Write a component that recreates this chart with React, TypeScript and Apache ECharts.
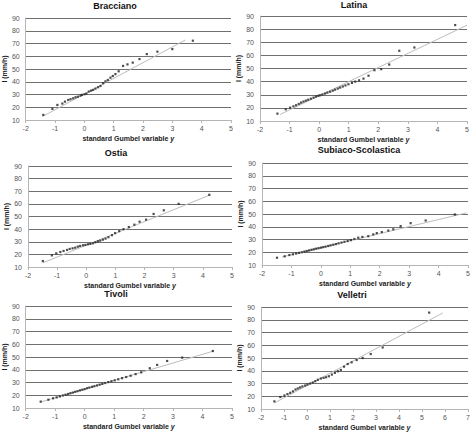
import React, { useEffect, useRef } from "react";
import * as echarts from "echarts";

// ---- data ----
const stationNames = ["Bracciano", "Latina", "Ostia", "Subiaco-Scolastica", "Tivoli", "Velletri"];

const braccianoX = [-1.40, -1.09, -0.92, -0.75, -0.66, -0.55, -0.47, -0.38, -0.30, -0.22, -0.13, -0.08, 0.0, 0.07, 0.15, 0.23, 0.30, 0.38, 0.47, 0.55, 0.64, 0.72, 0.80, 0.89, 0.97, 1.06, 1.17, 1.32, 1.47, 1.65, 1.88, 2.13, 2.49, 3.0, 3.70];
const braccianoY = [14, 18.7, 21.8, 22.9, 24.4, 25.7, 26.3, 27, 27.8, 28.3, 29.1, 29.7, 30.2, 30.7, 32.3, 33, 33.6, 34.6, 35.7, 36.7, 38.8, 40.3, 41.4, 43.2, 44.5, 46, 48.2, 52.4, 53.6, 55, 57.8, 61.7, 63.6, 65.6, 72.2];
const braccianoFitX = [-1.43, 3.44];
const braccianoFitY = [12.7, 72.7];

const latinaX = [-1.41, -1.13, -0.98, -0.87, -0.78, -0.69, -0.61, -0.53, -0.45, -0.37, -0.28, -0.19, -0.11, -0.03, 0.03, 0.11, 0.20, 0.28, 0.37, 0.46, 0.54, 0.63, 0.71, 0.80, 0.89, 0.99, 1.11, 1.22, 1.35, 1.50, 1.67, 1.87, 2.10, 2.37, 2.71, 3.22, 4.60];
const latinaY = [15.6, 18.9, 20.2, 21.2, 22.0, 23.0, 24.0, 24.8, 25.5, 26.2, 27.0, 27.8, 28.6, 29.2, 29.6, 30.2, 30.9, 31.6, 32.3, 33.1, 33.9, 34.7, 35.5, 36.3, 37.1, 38.0, 39.0, 40.0, 41.0, 42.3, 44.5, 48.7, 49.5, 53.0, 63.5, 66.0, 83.1];
const latinaFitX = [-1.32, 5.0];
const latinaFitY = [15, 83];

const ostiaX = [-1.49, -1.18, -1.03, -0.89, -0.78, -0.66, -0.57, -0.47, -0.38, -0.29, -0.21, -0.11, -0.03, 0.06, 0.14, 0.23, 0.31, 0.40, 0.48, 0.57, 0.66, 0.76, 0.88, 0.99, 1.13, 1.28, 1.46, 1.65, 1.83, 2.05, 2.31, 2.66, 3.17, 4.22];
const ostiaY = [14.7, 19.2, 20.8, 21.9, 22.7, 23.5, 24.3, 24.8, 25.3, 26.1, 26.7, 27.2, 27.5, 28.0, 28.3, 28.8, 29.6, 30.4, 30.9, 31.7, 32.5, 33.6, 35.2, 36.8, 38.4, 40.0, 41.6, 43.5, 45.9, 47.5, 52.0, 54.9, 60.0, 67.2];
const ostiaFitX = [-1.49, 4.26];
const ostiaFitY = [13.3, 67.2];

const subiacoX = [-1.49, -1.23, -1.07, -0.95, -0.84, -0.74, -0.65, -0.56, -0.48, -0.40, -0.32, -0.24, -0.16, -0.08, 0.0, 0.08, 0.16, 0.25, 0.33, 0.42, 0.51, 0.60, 0.70, 0.80, 0.91, 1.02, 1.14, 1.27, 1.41, 1.61, 1.78, 1.90, 2.07, 2.29, 2.46, 2.71, 3.05, 3.56, 4.55];
const subiacoY = [15.7, 16.8, 17.8, 18.4, 19.0, 19.5, 20.0, 20.5, 21.0, 21.4, 21.9, 22.3, 22.8, 23.2, 23.6, 24.0, 24.4, 24.9, 25.4, 25.9, 26.4, 27.0, 27.6, 28.2, 28.8, 29.5, 30.4, 31.4, 32.0, 32.6, 34.0, 35.0, 35.8, 37.0, 38.0, 40.5, 42.8, 44.9, 49.6];
const subiacoFitX = [-1.32, 4.95];
const subiacoFitY = [16.3, 50.9];

const tivoliX = [-1.49, -1.23, -1.07, -0.95, -0.84, -0.74, -0.65, -0.56, -0.48, -0.40, -0.32, -0.24, -0.16, -0.08, 0.0, 0.08, 0.16, 0.25, 0.33, 0.42, 0.51, 0.60, 0.70, 0.80, 0.91, 1.02, 1.14, 1.27, 1.41, 1.56, 1.73, 1.92, 2.21, 2.46, 2.80, 3.31, 4.35];
const tivoliY = [15.0, 16.5, 17.6, 18.3, 19.1, 19.8, 20.4, 21.0, 21.6, 22.1, 22.7, 23.2, 23.8, 24.3, 24.8, 25.5, 26.0, 26.6, 27.1, 27.7, 28.3, 28.9, 29.6, 30.3, 31.0, 31.7, 32.5, 33.4, 34.3, 35.3, 36.6, 38.0, 41.2, 43.8, 46.9, 49.5, 54.7];
const tivoliFitX = [-1.49, 4.38];
const tivoliFitY = [14.7, 54.7];

const velletriX = [-1.42, -1.16, -0.98, -0.85, -0.73, -0.61, -0.50, -0.40, -0.30, -0.20, -0.08, 0.02, 0.14, 0.25, 0.36, 0.47, 0.60, 0.72, 0.83, 0.95, 1.08, 1.21, 1.34, 1.47, 1.61, 1.77, 1.94, 2.16, 2.42, 2.77, 3.29, 5.31];
const velletriY = [16, 19.4, 20.6, 21.7, 22.7, 23.8, 25.3, 26.1, 26.9, 27.7, 28.4, 29.2, 30, 30.8, 31.8, 32.9, 33.9, 34.4, 34.9, 35.7, 37, 38.3, 39.6, 40.6, 43.2, 45.3, 46.6, 48.4, 50, 53.1, 58.3, 85.6];
const velletriFitX = [-1.42, 5.9];
const velletriFitY = [14.7, 85.3];

const xMaxes = [5, 5, 5, 5, 5, 7];
const yTicks = { min: 10, max: 90, interval: 10 };
const yAxisTitle = "I (mm/h)";
const xAxisTitle = "standard Gumbel variable ";
const xAxisTitleItalic = "y";

const seriesX = [braccianoX, latinaX, ostiaX, subiacoX, tivoliX, velletriX];
const seriesY = [braccianoY, latinaY, ostiaY, subiacoY, tivoliY, velletriY];
const fitXs = [braccianoFitX, latinaFitX, ostiaFitX, subiacoFitX, tivoliFitX, velletriFitX];
const fitYs = [braccianoFitY, latinaFitY, ostiaFitY, subiacoFitY, tivoliFitY, velletriFitY];

// ---- layout ----
const grids = [
  { left: 25, top: 18, width: 206, height: 102 },
  { left: 260, top: 16, width: 207, height: 105 },
  { left: 28, top: 166, width: 204, height: 101 },
  { left: 262, top: 163, width: 207, height: 102 },
  { left: 25, top: 306, width: 207, height: 102 },
  { left: 261, top: 307, width: 208, height: 102 },
];
const titlePos = [
  { x: 115, y: 1 },
  { x: 354, y: 0 },
  { x: 116, y: 148 },
  { x: 359, y: 145 },
  { x: 116, y: 289 },
  { x: 352, y: 290 },
];

const FONT = "Liberation Sans, Arial, sans-serif";

export default function App() {
  const ref = useRef<HTMLDivElement>(null);
  useEffect(() => {
    if (!ref.current) return;
    const chart = echarts.init(ref.current, undefined, { renderer: "svg" });
    const option: any = {
      animation: false,
      backgroundColor: "#ffffff",
      textStyle: { fontFamily: FONT },
      title: stationNames.map((n, i) => ({
        text: n,
        left: titlePos[i].x,
        top: titlePos[i].y,
        textAlign: "center",
        padding: 0,
        textStyle: { fontSize: 9, fontWeight: "bold", color: "#111", fontFamily: FONT },
      })),
      grid: grids.map((g) => ({ ...g, containLabel: false })),
      xAxis: stationNames.map((_, i) => ({
        type: "value",
        gridIndex: i,
        min: -2,
        max: xMaxes[i],
        interval: 1,
        splitLine: { show: false },
        axisLine: { show: true, onZero: false, lineStyle: { color: "#b5b5b5", width: 1 } },
        axisTick: { show: true, length: 3, lineStyle: { color: "#b5b5b5" } },
        axisLabel: { fontSize: 7, color: "#555", margin: 5, fontFamily: FONT },
        name: `{b|${xAxisTitle}}{i|${xAxisTitleItalic}}`,
        nameLocation: "middle",
        nameGap: 15,
        nameTextStyle: {
          rich: {
            b: { fontSize: 7, fontWeight: "bold", color: "#222", fontFamily: FONT },
            i: { fontSize: 7, fontWeight: "bold", fontStyle: "italic", color: "#222", fontFamily: FONT },
          },
        },
      })),
      yAxis: stationNames.map((_, i) => ({
        type: "value",
        gridIndex: i,
        min: yTicks.min,
        max: yTicks.max,
        interval: yTicks.interval,
        splitLine: { show: true, lineStyle: { color: "#707070", width: 1 } },
        axisLine: { show: true, onZero: false, lineStyle: { color: "#b5b5b5", width: 1 } },
        axisTick: { show: false },
        axisLabel: { fontSize: 7, color: "#555", margin: 6, fontFamily: FONT },
        name: yAxisTitle,
        nameLocation: "middle",
        nameGap: 16,
        nameTextStyle: { fontSize: 7, fontWeight: "bold", color: "#222", fontFamily: FONT },
      })),
      series: stationNames.flatMap((n, i) => [
        {
          name: n + " fit",
          type: "line",
          xAxisIndex: i,
          yAxisIndex: i,
          data: fitXs[i].map((x, k) => [x, fitYs[i][k]]),
          symbol: "none",
          lineStyle: { color: "#bdbdbd", width: 1 },
          silent: true,
          z: 2,
        },
        {
          name: n,
          type: "scatter",
          xAxisIndex: i,
          yAxisIndex: i,
          data: seriesX[i].map((x, k) => [x, seriesY[i][k]]),
          symbol: "rect",
          symbolSize: 2.2,
          itemStyle: { color: "#222" },
          z: 3,
        },
      ]),
    };
    chart.setOption(option);
    return () => chart.dispose();
  }, []);
  return (
    <div
      ref={ref}
      style={{ position: "fixed", left: 0, top: 0, width: 473, height: 435, background: "#fff" }}
    />
  );
}
